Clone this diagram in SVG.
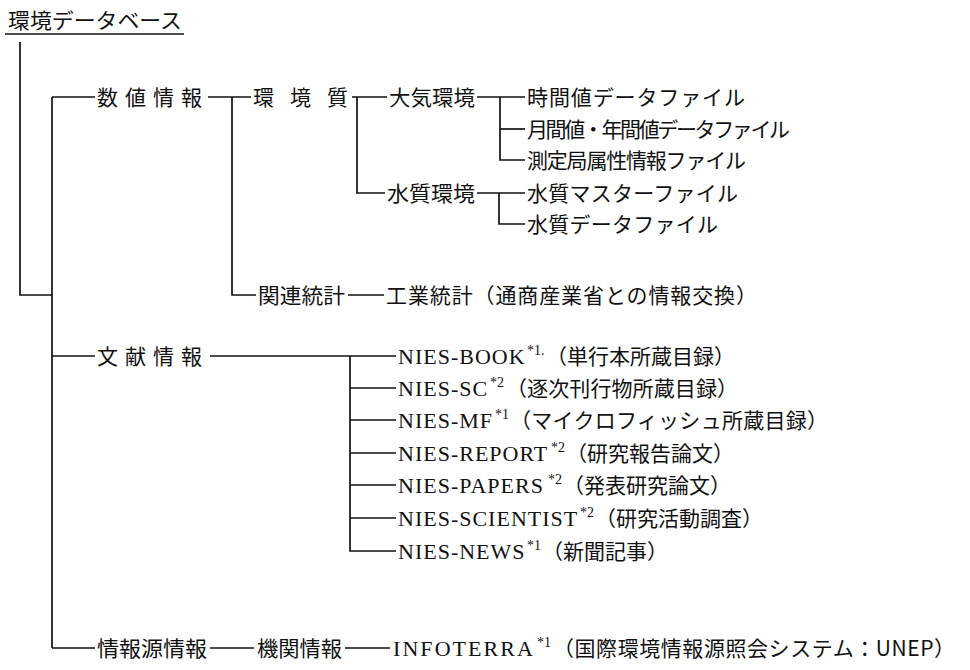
<svg xmlns="http://www.w3.org/2000/svg" width="970" height="670" viewBox="0 0 970 670">
<style>
.jp{font-family:"Noto Sans CJK JP","Noto Sans CJK SC",sans-serif;font-size:21px;fill:#111}
.en{font-family:"Liberation Serif",serif;font-size:22px;letter-spacing:1px;fill:#111}
.sup{font-family:"Liberation Serif",serif;font-size:14px;fill:#111}
.ln{stroke:#111;stroke-width:1.7;fill:none}
</style>
<rect width="970" height="670" fill="#fff"/>
<g id="connectors" class="ln">
<path d="M20 42 V295 H52"/>
<path d="M52 97 V648"/>
<path d="M52 97 H95"/>
<path d="M52 356 H95"/>
<path d="M52 648 H95"/>
<path d="M208 97 H251"/>
<path d="M232 97 V295 H256"/>
<path d="M348 295 H384"/>
<path d="M352 97 H387"/>
<path d="M357 97 V193 H385"/>
<path d="M477 97 H525"/>
<path d="M500 97 V160 H525"/>
<path d="M500 129 H525"/>
<path d="M477 193 H525"/>
<path d="M499 193 V224 H525"/>
<path d="M210 356 H396"/>
<path d="M350 356 V551 H396"/>
<path d="M350 388 H396"/>
<path d="M350 420 H396"/>
<path d="M350 453 H396"/>
<path d="M350 485 H396"/>
<path d="M350 518 H396"/>
<path d="M210 648 H254"/>
<path d="M345 648 H390"/>
</g>
<g id="root">
<text class="jp" x="8" y="28" font-size="22" textLength="174" lengthAdjust="spacingAndGlyphs">環境データベース</text>
<path class="ln" d="M5 34 H184"/>
</g>
<g id="suchi"><text class="jp" x="97" y="105" font-size="22" letter-spacing="7">数値情報</text></g>
<g id="kankyoshitsu"><text class="jp" x="253" y="105" font-size="22" letter-spacing="16">環境質</text></g>
<g id="taiki"><text class="jp" x="389" y="105" textLength="86" lengthAdjust="spacingAndGlyphs">大気環境</text></g>
<g id="jikan"><text class="jp" x="527" y="105" textLength="218" lengthAdjust="spacing">時間値データファイル</text></g>
<g id="getsukan"><text class="jp" x="527" y="137" textLength="263" lengthAdjust="spacing">月間値・年間値データファイル</text></g>
<g id="sokutei"><text class="jp" x="527" y="168" textLength="219" lengthAdjust="spacing">測定局属性情報ファイル</text></g>
<g id="suishitsu"><text class="jp" x="387" y="201" textLength="88" lengthAdjust="spacingAndGlyphs">水質環境</text></g>
<g id="master"><text class="jp" x="527" y="201" textLength="211" lengthAdjust="spacing">水質マスターファイル</text></g>
<g id="suishitsudata"><text class="jp" x="527" y="232" textLength="191" lengthAdjust="spacing">水質データファイル</text></g>
<g id="kanren"><text class="jp" x="258" y="303" textLength="87" lengthAdjust="spacingAndGlyphs">関連統計</text></g>
<g id="kogyo"><text class="jp" x="386" y="303" textLength="371" lengthAdjust="spacing">工業統計（通商産業省との情報交換）</text></g>
<g id="bunken"><text class="jp" x="97" y="364" font-size="22" letter-spacing="7">文献情報</text></g>
<g id="book"><text class="en" x="398" y="363.5">NIES-BOOK</text><text class="sup" x="527" y="355">*1.</text><text class="jp" x="546" y="364" font-size="20">（単行本所蔵目録）</text></g>
<g id="sc"><text class="en" x="398" y="395.5">NIES-SC</text><text class="sup" x="490" y="387">*2</text><text class="jp" x="506" y="396" font-size="20" textLength="232" lengthAdjust="spacing">（逐次刊行物所蔵目録）</text></g>
<g id="mf"><text class="en" x="398" y="427.5">NIES-MF</text><text class="sup" x="495" y="419">*1</text><text class="jp" x="510" y="428" font-size="20" textLength="318" lengthAdjust="spacing">（マイクロフィッシュ所蔵目録）</text></g>
<g id="report"><text class="en" x="398" y="460.5">NIES-REPORT</text><text class="sup" x="551" y="452">*2</text><text class="jp" x="566" y="461" font-size="20">（研究報告論文）</text></g>
<g id="papers"><text class="en" x="398" y="492.5">NIES-PAPERS</text><text class="sup" x="548" y="484">*2</text><text class="jp" x="563" y="493" font-size="20">（発表研究論文）</text></g>
<g id="scientist"><text class="en" x="398" y="525.5">NIES-SCIENTIST</text><text class="sup" x="580" y="517">*2</text><text class="jp" x="595" y="526" font-size="20">（研究活動調査）</text></g>
<g id="news"><text class="en" x="398" y="558.5">NIES-NEWS</text><text class="sup" x="527" y="550">*1</text><text class="jp" x="542" y="559" font-size="20">（新聞記事）</text></g>
<g id="johogen"><text class="jp" x="97" y="656" textLength="110" lengthAdjust="spacingAndGlyphs">情報源情報</text></g>
<g id="kikan"><text class="jp" x="257" y="656" textLength="85" lengthAdjust="spacingAndGlyphs">機関情報</text></g>
<g id="infoterra"><text class="en" x="393" y="655.5" textLength="141" lengthAdjust="spacing">INFOTERRA</text><text class="sup" x="537" y="647">*1</text><text class="jp" x="553" y="656" font-size="20" textLength="402" lengthAdjust="spacing">（国際環境情報源照会システム：UNEP）</text></g>
</svg>
